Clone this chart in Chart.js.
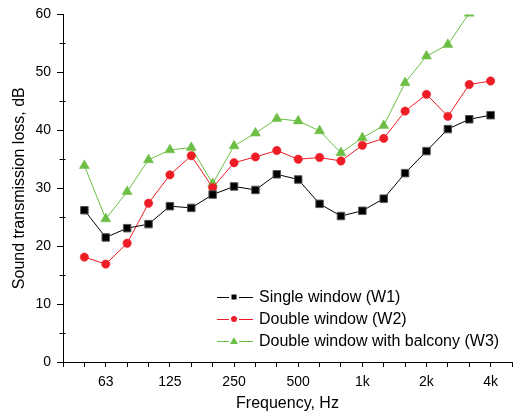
<!DOCTYPE html>
<html>
<head>
<meta charset="utf-8">
<script src="https://cdn.jsdelivr.net/npm/chart.js@4/dist/chart.umd.min.js"></script>
<style>
  html, body { margin: 0; padding: 0; background: #fff; }
  #c { display: block; }
</style>
</head>
<body>
<canvas id="c" width="523" height="417"></canvas>
<script>
// One-third octave band centre frequencies (Hz)
const frequencies = [50, 63, 80, 100, 125, 160, 200, 250, 315, 400, 500, 630, 800, 1000, 1250, 1600, 2000, 2500, 3150, 4000];

// Axis slots: 40 Hz ... 5000 Hz, labelled only at octave bands
const xTickLabels = ['', '', '63', '', '', '125', '', '', '250', '', '', '500', '', '', '1k', '', '', '2k', '', '', '4k', ''];

// Sound transmission loss, dB
const singleWindow = [26.2, 21.5, 23.1, 23.8, 26.9, 26.6, 28.9, 30.3, 29.7, 32.4, 31.5, 27.3, 25.2, 26.1, 28.2, 32.6, 36.4, 40.2, 41.9, 42.6];
const doubleWindow = [18.1, 16.9, 20.5, 27.4, 32.3, 35.6, 30.1, 34.4, 35.4, 36.5, 35.0, 35.3, 34.7, 37.4, 38.6, 43.3, 46.2, 42.4, 47.9, 48.5];
const doubleWindowBalcony = [33.9, 24.7, 29.4, 34.9, 36.6, 37.0, 30.8, 37.3, 39.5, 42.0, 41.6, 39.9, 36.1, 38.7, 40.8, 48.2, 52.8, 54.8, 60.2, 62.5];

const seriesLabels = ['Single window (W1)', 'Double window (W2)', 'Double window with balcony (W3)'];

Chart.defaults.font.family = '"Liberation Sans", Arial, sans-serif';
Chart.defaults.color = '#000';

function toPoints(values) {
  return values.map((v, i) => ({ x: i + 1, y: v }));
}

const isMinorY = (v) => v % 10 !== 0;

const minorTicks = {
  id: 'minorTicks',
  afterDraw(chart) {
    const ctx = chart.ctx;
    const ys = chart.scales.y;
    const x = Math.round(ys.right) - 0.5;
    ctx.save();
    ctx.strokeStyle = '#000';
    ctx.lineWidth = 1;
    ctx.beginPath();
    ys.ticks.forEach((t) => {
      if (!isMinorY(t.value)) return;
      const py = Math.round(ys.getPixelForValue(t.value)) + 0.5;
      ctx.moveTo(x - 3, py);
      ctx.lineTo(x + 3, py);
    });
    ctx.stroke();
    ctx.restore();
  }
};

const inlineLegend = {
  id: 'inlineLegend',
  afterDraw(chart, args, opts) {
    const ctx = chart.ctx;
    ctx.save();
    ctx.font = '16px "Liberation Sans", Arial, sans-serif';
    ctx.textBaseline = 'middle';
    ctx.textAlign = 'left';
    chart.data.datasets.forEach((ds, i) => {
      const y = opts.y + i * opts.rowGap;
      const x0 = opts.x;
      const cx = x0 + opts.markerOffset;
      ctx.strokeStyle = ds.borderColor;
      ctx.lineWidth = 1;
      ctx.beginPath();
      ctx.moveTo(x0, y + 0.5); ctx.lineTo(cx - 5, y + 0.5);
      ctx.moveTo(cx + 5, y + 0.5); ctx.lineTo(x0 + opts.lineLen, y + 0.5);
      ctx.stroke();
      ctx.fillStyle = ds.backgroundColor;
      ctx.beginPath();
      if (ds.pointStyle === 'rect') {
        ctx.rect(cx - 2.5, y - 2.5, 5, 5);
      } else if (ds.pointStyle === 'circle') {
        ctx.arc(cx, y, 3, 0, Math.PI * 2);
      } else {
        ctx.moveTo(cx, y - 4); ctx.lineTo(cx + 4, y + 3); ctx.lineTo(cx - 4, y + 3); ctx.closePath();
      }
      ctx.fill();
      ctx.fillStyle = '#000';
      ctx.fillText(ds.label, x0 + opts.lineLen + opts.gap, y + 1);
    });
    ctx.restore();
  }
};

new Chart(document.getElementById('c'), {
  type: 'line',
  data: {
    datasets: [
      {
        label: seriesLabels[0], data: toPoints(singleWindow),
        borderColor: '#000000', backgroundColor: '#000000', borderWidth: 1,
        pointStyle: 'rect', pointRadius: 5.3, pointBorderWidth: 1, pointBorderColor: '#555'
      },
      {
        label: seriesLabels[1], data: toPoints(doubleWindow),
        borderColor: '#EE1C25', backgroundColor: '#EE1C25', borderWidth: 1,
        pointStyle: 'circle', pointRadius: 4.2, pointBorderWidth: 0.5, pointBorderColor: '#EE1C25'
      },
      {
        label: seriesLabels[2], data: toPoints(doubleWindowBalcony),
        borderColor: '#6DBE45', backgroundColor: '#6DBE45', borderWidth: 1,
        pointStyle: 'triangle', pointRadius: 5.8, pointBorderWidth: 0.5, pointBorderColor: '#6DBE45'
      }
    ]
  },
  options: {
    responsive: false,
    animation: false,
    devicePixelRatio: 1,
    layout: { padding: { top: 14, right: 11, bottom: 0, left: 0 } },
    elements: { line: { tension: 0 } },
    plugins: {
      legend: { display: false },
      tooltip: { enabled: false },
      inlineLegend: { x: 217, y: 297, rowGap: 22, lineLen: 36, markerOffset: 17, gap: 6 }
    },
    scales: {
      x: {
        type: 'linear',
        min: 0,
        max: xTickLabels.length - 1,
        afterFit(s) { s.height = 55; },
        afterBuildTicks(s) { s.ticks = xTickLabels.map((_, i) => ({ value: i })); },
        ticks: {
          autoSkip: false, maxRotation: 0, minRotation: 0, padding: 7,
          font: { size: 14 }, color: '#000',
          callback: (v) => xTickLabels[v] ?? ''
        },
        grid: { drawOnChartArea: false, drawTicks: true, tickLength: 5, color: '#000', tickWidth: 1 },
        border: { display: true, color: '#000', width: 1 },
        title: { display: true, text: 'Frequency, Hz', font: { size: 16 }, color: '#000', padding: { top: 0, bottom: 4 } }
      },
      y: {
        min: 0,
        max: 60,
        afterFit(s) { s.width = 63; },
        ticks: {
          stepSize: 5, padding: 6, font: { size: 14 }, color: '#000',
          callback: (v) => (isMinorY(v) ? '' : String(v))
        },
        grid: {
          drawOnChartArea: false, drawTicks: true, tickLength: 6, tickWidth: 1,
          color: '#000',
          tickColor: (c) => (c.tick && isMinorY(c.tick.value) ? 'rgba(0,0,0,0)' : '#000')
        },
        border: { display: true, color: '#000', width: 1 },
        title: { display: true, text: 'Sound transmission loss, dB', font: { size: 16 }, color: '#000', padding: { top: 10, bottom: 0 } }
      }
    }
  },
  plugins: [minorTicks, inlineLegend]
});
</script>
</body>
</html>
